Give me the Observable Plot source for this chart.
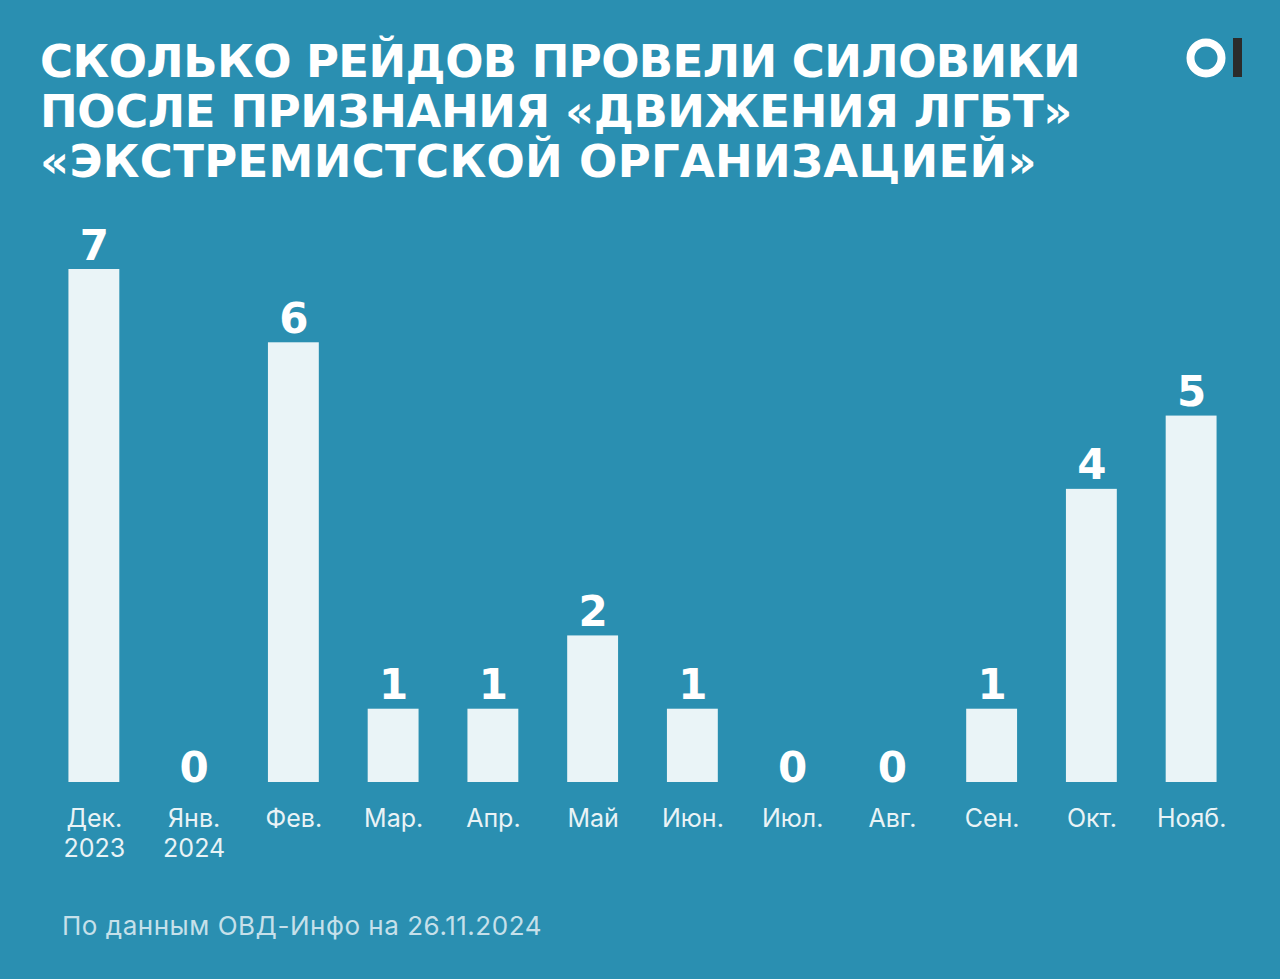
<!DOCTYPE html>
<html>
<head>
<meta charset="utf-8">
<script src="https://cdn.jsdelivr.net/npm/d3@7"></script>
<script src="https://cdn.jsdelivr.net/npm/@observablehq/plot@0.6"></script>
<style>
  html, body { margin: 0; padding: 0; background: #2a8fb1; width: 1280px; height: 979px; overflow: hidden; }
  #header { position: relative; height: 210px; width: 1280px; }
  .tl { position: absolute; left: 40px; margin: 0; font-family: "DejaVu Sans", sans-serif; font-weight: bold; font-size: 45px; line-height: 50px; color: #ffffff; white-space: nowrap; }
  #logo { position: absolute; left: 1180px; top: 32px; }
  #chart { display: block; }
  #caption { position: absolute; left: 62px; top: 911px; font-family: Inter, sans-serif; font-size: 26px; line-height: 30px; color: #c6e0ea; white-space: nowrap; }
</style>
</head>
<body>
<div id="header">
  <div class="tl" id="t1" style="top:37px">СКОЛЬКО РЕЙДОВ ПРОВЕЛИ СИЛОВИКИ</div>
  <div class="tl" id="t2" style="top:87px">ПОСЛЕ ПРИЗНАНИЯ «ДВИЖЕНИЯ ЛГБТ»</div>
  <div class="tl" id="t3" style="top:137px">«ЭКСТРЕМИСТСКОЙ ОРГАНИЗАЦИЕЙ»</div>
  <svg id="logo" width="70" height="52" viewBox="0 0 70 52">
    <circle cx="26" cy="26" r="15.5" fill="none" stroke="#ffffff" stroke-width="8"></circle>
    <rect x="53" y="6" width="9" height="39" fill="#2b2b2b"></rect>
  </svg>
</div>
<div id="chart"></div>
<div id="caption">По данным ОВД-Инфо на 26.11.2024</div>
<script>
const months = ["Дек. 2023", "Янв. 2024", "Фев.", "Мар.", "Апр.", "Май", "Июн.", "Июл.", "Авг.", "Сен.", "Окт.", "Нояб."];
const tickLabels = ["Дек.\n2023", "Янв.\n2024", "Фев.", "Мар.", "Апр.", "Май", "Июн.", "Июл.", "Авг.", "Сен.", "Окт.", "Нояб."];
const raids = [7, 0, 6, 1, 1, 2, 1, 0, 0, 1, 4, 5];

const data = months.map((m, i) => ({month: m, value: raids[i]}));
const tickMap = new Map(months.map((m, i) => [m, tickLabels[i]]));

// fit title lines and caption to the reference widths
const targets = {t1: 1040, t2: 1032, t3: 997, caption: 480};
for (const id in targets) {
  const el = document.getElementById(id);
  const w = el.getBoundingClientRect().width;
  const n = el.textContent.length;
  el.style.letterSpacing = ((targets[id] - w) / n) + "px";
}

const chart = Plot.plot({
  width: 1280,
  height: 680,
  marginTop: 59,
  marginBottom: 108,
  marginLeft: 44,
  marginRight: 39,
  style: {background: "transparent", color: "#e9f3f6", fontFamily: "Inter, sans-serif", overflow: "visible"},
  x: {domain: months, paddingInner: 0.49, paddingOuter: 0.245, align: 0.5, round: false, label: null},
  y: {domain: [0, 7], axis: null},
  marks: [
    Plot.barY(data, {x: "month", y: "value", fill: "#eaf4f7"}),
    Plot.text(data.filter(d => d.value > 0), {x: "month", y: "value", text: d => String(d.value), lineAnchor: "bottom", dy: -10, fill: "#ffffff", fontSize: 42, fontWeight: "bold", fontFamily: "DejaVu Sans, sans-serif"}),
    Plot.text(data.filter(d => d.value === 0), {x: "month", y: "value", text: d => String(d.value), lineAnchor: "bottom", dy: -1, fill: "#ffffff", fontSize: 42, fontWeight: "bold", fontFamily: "DejaVu Sans, sans-serif"}),
    Plot.axisX({tickSize: 0, tickPadding: 23, fontSize: 25, lineHeight: 1.2, tickFormat: d => tickMap.get(d), label: null, fill: "#e9f3f6"})
  ]
});
document.getElementById("chart").appendChild(chart);
</script>
</body>
</html>
